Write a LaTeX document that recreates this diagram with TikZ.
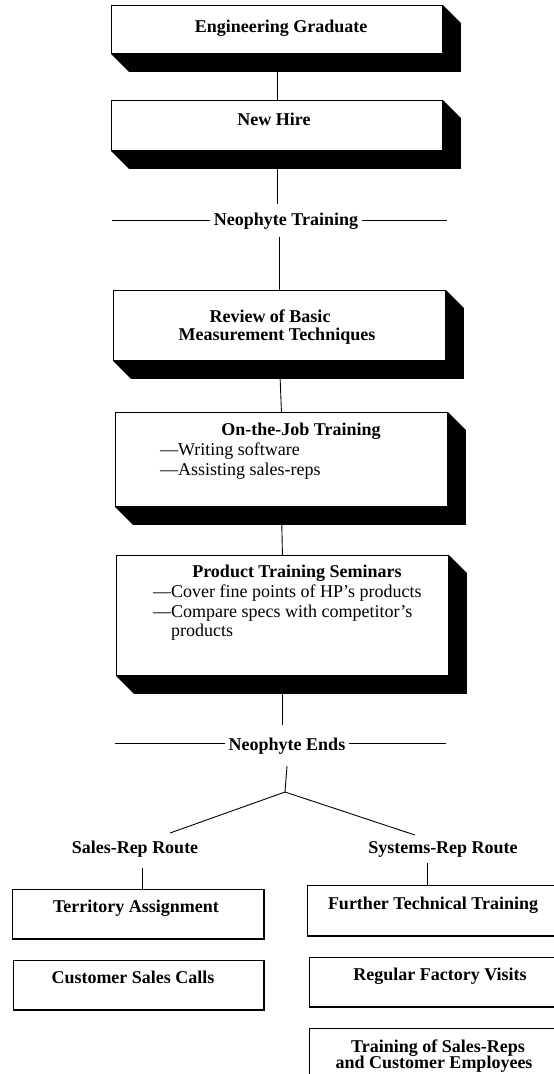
\documentclass[tikz,border=0pt]{standalone}
\usepackage{fontspec}
\setmainfont{Liberation Serif}
\newcommand\boxslab[1]{\fill[black] (#1.north east) -- ([shift={(18,18)}]#1.north east) -- ([shift={(18,18)}]#1.south east) -- ([shift={(18,18)}]#1.south west) -- (#1.south west) -- (#1.south east) -- cycle;}
\begin{document}
\begin{tikzpicture}[x=1pt,y=-1pt,
  front/.style={draw, line width=0.9pt, fill=white, inner sep=0pt, anchor=north west},
  small/.style={draw, line width=0.9pt, fill=white, inner sep=0pt, anchor=north west},
  lab/.style={font=\fontsize{18}{20}\selectfont\bfseries, inner sep=0pt, anchor=base},
  body/.style={font=\fontsize{18}{20}\selectfont, inner sep=0pt, anchor=base west},
  conn/.style={line width=0.9pt},
  heavy/.style={line width=2.6pt}]
\useasboundingbox (0,0) rectangle (554,1074);
\clip (0,0) rectangle (554,1074);
% main boxes (front faces)
\node[front, minimum width=331pt, minimum height=48pt] (b1) at (111,5) {};
\node[front, minimum width=331pt, minimum height=50pt] (b2) at (111,100) {};
\node[front, minimum width=332pt, minimum height=70pt] (b3) at (113,290) {};
\node[front, minimum width=332pt, minimum height=94pt] (b4) at (115,412) {};
\node[front, minimum width=332pt, minimum height=120pt] (b5) at (116,555) {};
% texts
\node[lab] (teg) at (281,32) {Engineering Graduate};
\node[lab] (tnh) at (274,125) {New Hire};
\node[lab, inner xsep=4pt, inner ysep=8pt] (nt) at (286,225) {Neophyte Training};
\node[lab] (tr1) at (270,322) {Review of Basic};
\node[lab] (tr2) at (277,340) {Measurement Techniques};
\node[lab] (toj) at (301,435) {On-the-Job Training};
\node[body] (toj1) at (160,455) {---Writing software};
\node[body] (toj2) at (160,475) {---Assisting sales-reps};
\node[lab] (tpt) at (297,577) {Product Training Seminars};
\node[body] (tpt1) at (153,597) {---Cover fine points of HP's products};
\node[body] (tpt2) at (153,617) {---Compare specs with competitor's};
\node[body] (tpt3) at (171,636) {products};
\node[lab, inner xsep=4pt, inner ysep=12pt] (ne) at (287,750) {Neophyte Ends};
% connectors
\draw[conn] (b1.south) -- (b2.north);
\draw[conn] (b2.south) -- (b2.south |- nt.north);
\draw[conn] (b3.north |- nt.south) -- (b3.north);
\draw[conn] (b3.south) -- (b4.north);
\draw[conn] (b4.south) -- (b5.north);
\draw[conn] (b5.south) -- (b5.south |- ne.north);
% shadows
\boxslab{b1}
\boxslab{b2}
\boxslab{b3}
\boxslab{b4}
\boxslab{b5}
% horizontal rules
\coordinate (ntL) at (112,220);
\coordinate (ntR) at (447,220);
\draw[conn] (ntL) -- (ntL -| nt.west);
\draw[conn] (nt.east |- ntR) -- (ntR);
\coordinate (neL) at (115,743);
\coordinate (neR) at (446,743);
\draw[conn] (neL) -- (neL -| ne.west);
\draw[conn] (ne.east |- neR) -- (neR);
% fork
\coordinate (apex) at (285,792);
\coordinate (forkL) at (170,833);
\coordinate (forkR) at (415,835);
\draw[conn] (ne.south) -- (apex);
\draw[conn] (forkL) -- (apex) -- (forkR);
\node[lab] (sr) at (135,853) {Sales-Rep Route};
\node[lab] (yr) at (443,853) {Systems-Rep Route};
% small boxes
\node[small, minimum width=251pt, minimum height=49pt] (s1) at (12,889) {};
\node[small, minimum width=250pt, minimum height=49pt] (s2) at (13,960) {};
\node[small, minimum width=260pt, minimum height=50pt] (y1) at (307,885) {};
\node[small, minimum width=260pt, minimum height=49pt] (y2) at (309,957) {};
\node[small, minimum width=260pt, minimum height=70pt] (y3) at (309,1028) {};
\draw[heavy] (s1.south west) -- (s1.south east) -- (s1.north east);
\draw[heavy] (s2.south west) -- (s2.south east) -- (s2.north east);
\draw[heavy] (y1.south west) -- (y1.south east);
\draw[heavy] (y2.south west) -- (y2.south east);
\coordinate (sc) at (142,868);
\draw[conn] (sc) -- (sc |- s1.north);
\coordinate (yc) at (427,863);
\draw[conn] (yc) -- (yc |- y1.north);
\node[lab] (s1t) at (136,912) {Territory Assignment};
\node[lab] (s2t) at (133,983) {Customer Sales Calls};
\node[lab] (y1t) at (433,909) {Further Technical Training};
\node[lab] (y2t) at (440,980) {Regular Factory Visits};
\node[lab] (y3a) at (438,1052) {Training of Sales-Reps};
\node[lab] (y3b) at (434,1068) {and Customer Employees};
\end{tikzpicture}
\end{document}
